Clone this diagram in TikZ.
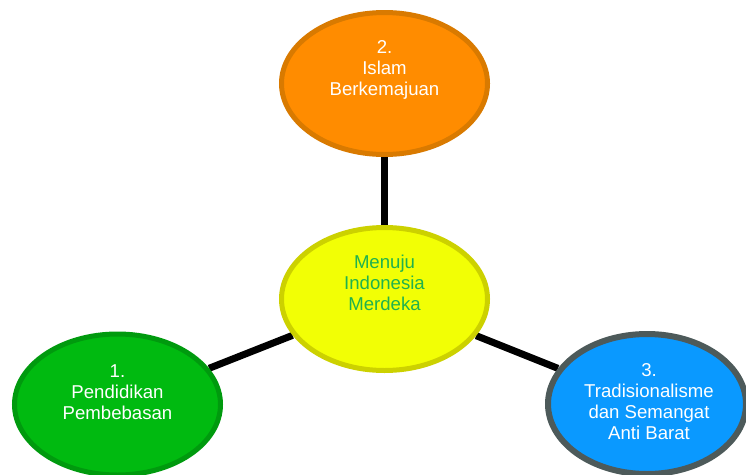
\documentclass[tikz,border=0pt]{standalone}
\usepackage{fontspec}
\setmainfont{Liberation Sans}
\usetikzlibrary{shapes.geometric,backgrounds}
\definecolor{orfill}{HTML}{FF8C00}
\definecolor{ordraw}{HTML}{D97A00}
\definecolor{yefill}{HTML}{F2FF05}
\definecolor{yedraw}{HTML}{CCD100}
\definecolor{yetext}{HTML}{1FB24E}
\definecolor{grfill}{HTML}{00BA10}
\definecolor{grdraw}{HTML}{009A0E}
\definecolor{blfill}{HTML}{0A99FF}
\definecolor{bldraw}{HTML}{4D5A5A}
\tikzset{
  bubble/.style={ellipse, inner sep=0pt, line width=5pt},
  bubtext/.style={align=center, font=\fontsize{18.6}{21}\selectfont, inner sep=0pt},
  link/.style={line width=7pt, black}
}
\begin{document}
\begin{tikzpicture}[x=1pt,y=-1pt]
\useasboundingbox (0,0) rectangle (746,474);
\node[bubble, fill=orfill, draw=ordraw, minimum width=206pt, minimum height=142pt] (o) at (384.5,83.5) {};
\node[bubble, fill=yefill, draw=yedraw, minimum width=206pt, minimum height=143pt] (c) at (384.5,299) {};
\node[bubble, fill=grfill, draw=grdraw, minimum width=206pt, minimum height=141pt] (g) at (117.5,404.5) {};
\node[bubble, fill=blfill, draw=bldraw, line width=6pt, minimum width=198pt, minimum height=140pt] (b) at (647,404) {};
\begin{scope}[on background layer]
\draw[link] (c) -- (o);
\draw[link] (c) -- (g);
\draw[link] (c) -- (b);
\end{scope}
\node[bubtext, text=white] (ot) at (384.5,70) {2.\\Islam\\Berkemajuan};
\node[bubtext, text=yetext] (ct) at (384.5,283) {Menuju\\Indonesia\\Merdeka};
\node[bubtext, text=white] (gt) at (117.5,392) {1.\\Pendidikan\\Pembebasan};
\node[bubtext, text=white] (bt) at (649,401.5) {3.\\Tradisionalisme\\dan Semangat\\Anti Barat};
\end{tikzpicture}
\end{document}
